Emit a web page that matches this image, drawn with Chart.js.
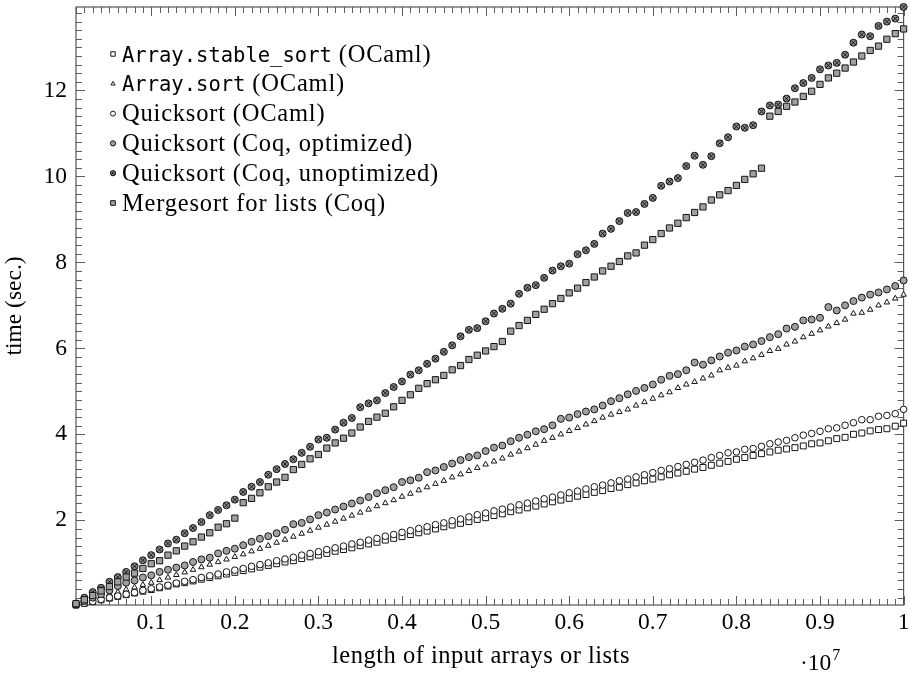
<!DOCTYPE html>
<html>
<head>
<meta charset="utf-8">
<script src="https://cdn.jsdelivr.net/npm/chart.js@4.4.1/dist/chart.umd.min.js"></script>
<style>
html,body{margin:0;padding:0;background:#fff;}
canvas{display:block;}
</style>
</head>
<body>
<canvas id="c" width="909" height="674" style="width:909px;height:674px"></canvas>
<script>
// ---------- data (x in units of 10^7) ----------
const inputLength = [
0.01,0.02,0.03,0.04,0.05,0.06,0.07,0.08,0.09,0.10,
0.11,0.12,0.13,0.14,0.15,0.16,0.17,0.18,0.19,0.20,
0.21,0.22,0.23,0.24,0.25,0.26,0.27,0.28,0.29,0.30,
0.31,0.32,0.33,0.34,0.35,0.36,0.37,0.38,0.39,0.40,
0.41,0.42,0.43,0.44,0.45,0.46,0.47,0.48,0.49,0.50,
0.51,0.52,0.53,0.54,0.55,0.56,0.57,0.58,0.59,0.60,
0.61,0.62,0.63,0.64,0.65,0.66,0.67,0.68,0.69,0.70,
0.71,0.72,0.73,0.74,0.75,0.76,0.77,0.78,0.79,0.80,
0.81,0.82,0.83,0.84,0.85,0.86,0.87,0.88,0.89,0.90,
0.91,0.92,0.93,0.94,0.95,0.96,0.97,0.98,0.99,1.00];

const stableSortOCaml = [
0.03,0.07,0.11,0.15,0.19,0.23,0.27,0.31,0.35,0.39,
0.43,0.47,0.52,0.55,0.59,0.63,0.67,0.71,0.75,0.79,
0.83,0.87,0.91,0.95,0.99,1.03,1.06,1.11,1.15,1.19,
1.23,1.28,1.32,1.36,1.41,1.45,1.49,1.54,1.58,1.62,
1.67,1.71,1.75,1.80,1.85,1.89,1.93,1.97,2.02,2.06,
2.11,2.15,2.20,2.24,2.29,2.33,2.38,2.43,2.47,2.51,
2.56,2.60,2.65,2.69,2.74,2.77,2.83,2.87,2.92,2.96,
3.01,3.06,3.10,3.14,3.19,3.23,3.28,3.33,3.37,3.42,
3.46,3.51,3.55,3.59,3.63,3.66,3.69,3.73,3.78,3.80,
3.85,3.90,3.93,4.00,4.03,4.08,4.11,4.13,4.19,4.26];

const arraySortOCaml = [
0.04,0.09,0.15,0.21,0.27,0.33,0.39,0.44,0.50,0.55,
0.61,0.67,0.73,0.79,0.85,0.91,0.97,1.03,1.09,1.15,
1.21,1.28,1.34,1.41,1.48,1.55,1.62,1.69,1.76,1.83,
1.90,1.97,2.04,2.11,2.18,2.25,2.33,2.40,2.47,2.55,
2.62,2.70,2.77,2.85,2.92,3.00,3.07,3.15,3.22,3.30,
3.37,3.44,3.53,3.60,3.68,3.76,3.85,3.92,4.00,4.08,
4.15,4.23,4.31,4.39,4.46,4.52,4.58,4.67,4.75,4.83,
4.91,4.98,5.08,5.16,5.22,5.30,5.37,5.49,5.55,5.60,
5.70,5.77,5.85,5.94,5.99,6.09,6.16,6.26,6.34,6.42,
6.51,6.59,6.67,6.81,6.83,6.90,7.00,7.07,7.16,7.25];

const quicksortOCaml = [
0.03,0.07,0.11,0.16,0.20,0.24,0.28,0.32,0.37,0.41,
0.45,0.49,0.54,0.58,0.62,0.67,0.71,0.75,0.80,0.84,
0.88,0.93,0.97,1.01,1.06,1.10,1.14,1.19,1.23,1.27,
1.32,1.36,1.40,1.45,1.49,1.54,1.58,1.63,1.67,1.72,
1.76,1.81,1.85,1.90,1.94,1.99,2.03,2.08,2.13,2.17,
2.22,2.26,2.31,2.36,2.40,2.45,2.50,2.54,2.59,2.64,
2.68,2.73,2.78,2.82,2.87,2.92,2.96,3.01,3.06,3.11,
3.16,3.20,3.25,3.30,3.35,3.40,3.46,3.51,3.57,3.59,
3.65,3.67,3.72,3.78,3.82,3.86,3.92,3.98,4.02,4.07,
4.13,4.15,4.21,4.27,4.34,4.34,4.42,4.44,4.48,4.58];

const quicksortCoqOptimized = [
0.05,0.12,0.20,0.28,0.37,0.47,0.55,0.60,0.67,0.72,
0.80,0.85,0.90,0.95,1.03,1.09,1.13,1.23,1.29,1.34,
1.42,1.50,1.57,1.63,1.70,1.78,1.91,1.94,2.02,2.12,
2.18,2.25,2.32,2.39,2.46,2.54,2.63,2.70,2.77,2.89,
2.93,2.99,3.12,3.16,3.24,3.32,3.40,3.47,3.51,3.61,
3.69,3.74,3.84,3.92,3.99,4.07,4.12,4.21,4.36,4.39,
4.47,4.53,4.58,4.67,4.77,4.84,4.93,5.01,5.08,5.16,
5.27,5.36,5.40,5.49,5.67,5.62,5.72,5.81,5.90,5.95,
6.04,6.09,6.17,6.26,6.33,6.46,6.50,6.65,6.67,6.71,
6.96,6.88,7.00,7.10,7.18,7.25,7.30,7.37,7.45,7.58];

const quicksortCoqUnoptimized = [
0.06,0.20,0.33,0.43,0.57,0.68,0.80,0.93,1.07,1.19,
1.32,1.46,1.55,1.70,1.82,1.96,2.12,2.24,2.35,2.48,
2.66,2.78,2.89,3.06,3.19,3.31,3.42,3.57,3.71,3.88,
3.92,4.11,4.27,4.38,4.63,4.72,4.79,4.96,5.10,5.23,
5.39,5.49,5.64,5.76,5.92,6.07,6.28,6.43,6.47,6.63,
6.81,6.92,7.04,7.27,7.41,7.47,7.64,7.81,7.91,7.97,
8.19,8.28,8.43,8.67,8.78,8.96,9.15,9.17,9.36,9.50,
9.78,9.88,9.96,10.24,10.48,10.27,10.47,10.77,10.91,11.16,
11.13,11.19,11.51,11.65,11.67,11.81,12.05,12.17,12.29,12.49,
12.58,12.64,12.83,13.11,13.30,13.26,13.50,13.60,13.67,13.94];

const mergesortListsCoq = [
0.06,0.15,0.25,0.36,0.46,0.57,0.68,0.77,0.88,0.99,
1.06,1.19,1.29,1.40,1.50,1.61,1.71,1.84,1.92,2.05,
2.41,2.51,2.64,2.78,2.89,3.00,3.18,3.30,3.43,3.53,
3.68,3.80,3.91,4.03,4.17,4.30,4.40,4.49,4.64,4.79,
4.92,5.07,5.18,5.27,5.37,5.50,5.60,5.74,5.84,5.94,
6.04,6.16,6.40,6.53,6.65,6.79,6.91,7.04,7.16,7.29,
7.40,7.53,7.66,7.80,7.91,8.02,8.15,8.22,8.40,8.53,
8.67,8.80,8.91,9.04,9.16,9.29,9.45,9.57,9.67,9.79,
9.93,10.06,10.19,11.40,11.51,11.63,11.73,11.86,11.98,12.14,
12.29,12.40,12.52,12.66,12.80,12.93,13.03,13.19,13.32,13.43];

// ---------- labels & ticks ----------
const legendMonoPart  = ['Array.stable_sort', 'Array.sort', '', '', '', ''];
const legendSerifPart = [' (OCaml)', ' (OCaml)', 'Quicksort (OCaml)', 'Quicksort (Coq, optimized)', 'Quicksort (Coq, unoptimized)', 'Mergesort for lists (Coq)'];
const xTickValues = [0.1,0.2,0.3,0.4,0.5,0.6,0.7,0.8,0.9,1.0];
const xTickLabels = ['0.1','0.2','0.3','0.4','0.5','0.6','0.7','0.8','0.9','1'];
const yTickValues = [2,4,6,8,10,12];
const yTickLabels = ['2','4','6','8','10','12'];
const xAxisTitle = 'length of input arrays or lists';
const yAxisTitle = 'time (sec.)';
const xScaleBase = '\u00B710';
const xScaleExponent = '7';

// ---------- styling ----------
const SERIF = "'Liberation Serif','Times New Roman',serif";
const MONO = "'DejaVu Sans Mono','Liberation Mono',monospace";
const X_MIN = 0.01, X_MAX = 1.0, Y_MIN = 0.03, Y_MAX = 13.94;
const INK = '#151515';

const markerStyles = [
  {pointStyle:'rect',     radius:4.2, backgroundColor:'#ffffff', borderColor:INK, borderWidth:1},
  {pointStyle:'triangle', radius:3.2, backgroundColor:'#ffffff', borderColor:INK, borderWidth:1},
  {pointStyle:'circle',   radius:3.3, backgroundColor:'#ffffff', borderColor:INK, borderWidth:1},
  {pointStyle:'circle',   radius:3.5, backgroundColor:'#a0a0a0', borderColor:INK, borderWidth:1},
  {pointStyle:'circle',   radius:3.5, backgroundColor:'#858585', borderColor:INK, borderWidth:1},
  {pointStyle:'rect',     radius:4.4, backgroundColor:'#a0a0a0', borderColor:INK, borderWidth:1}
];
const crossStyle = {pointStyle:'crossRot', radius:3.5, backgroundColor:INK, borderColor:INK, borderWidth:0.9};

const seriesValues = [stableSortOCaml, arraySortOCaml, quicksortOCaml, quicksortCoqOptimized, quicksortCoqUnoptimized, mergesortListsCoq];

function pts(ys){ return inputLength.map((x,i)=>({x:x, y:ys[i]})); }

const datasets = seriesValues.map((ys,i)=>Object.assign({
  label: legendMonoPart[i] + legendSerifPart[i],
  data: pts(ys),
  showLine:false,
  clip:false,
  order: 10 - i*1.5,
  pointHoverRadius: markerStyles[i].radius
}, markerStyles[i]));
// cross overlay for the "unoptimized" marker (circle with an x)
datasets.push(Object.assign({
  label: '',
  data: pts(quicksortCoqUnoptimized),
  showLine:false,
  clip:false,
  order: 10 - 4*1.5 - 0.5,
  pointHoverRadius: crossStyle.radius
}, crossStyle));

function drawMarker(ctx, st, x, y, scale){
  const opts = {pointStyle:st.pointStyle, radius:st.radius*scale, rotation:0, borderWidth:st.borderWidth};
  ctx.save();
  ctx.fillStyle = st.backgroundColor;
  ctx.strokeStyle = st.borderColor;
  ctx.lineWidth = st.borderWidth;
  if (Chart.helpers && Chart.helpers.drawPoint) {
    Chart.helpers.drawPoint(ctx, opts, x, y);
  }
  ctx.restore();
}

const axisDecor = {
  id:'axisDecor',
  beforeDatasetsDraw(chart){
    const {ctx, chartArea:a, scales:{x, y}} = chart;
    ctx.save();
    ctx.strokeStyle = '#5e5e5e';
    ctx.lineWidth = 1;
    const seg = (x1,y1,x2,y2)=>{ctx.beginPath();ctx.moveTo(x1,y1);ctx.lineTo(x2,y2);ctx.stroke();};
    for (let i=1;i<=100;i++){
      const v = i/100;
      if (v < X_MIN - 1e-9 || v > X_MAX + 1e-9) continue;
      const major = xTickValues.some(t=>Math.abs(t-v)<1e-9);
      const len = major ? 9 : 6;
      const px = Math.round(x.getPixelForValue(v)) + 0.5;
      seg(px, a.bottom, px, a.bottom - len);
      seg(px, a.top, px, a.top + len);
    }
    for (let i=1;i*0.2<=Y_MAX;i++){
      const v = i*0.2;
      if (v < Y_MIN) continue;
      const major = yTickValues.some(t=>Math.abs(t-v)<1e-6);
      const len = major ? 9 : 6;
      const py = Math.round(y.getPixelForValue(v)) + 0.5;
      seg(a.left, py, a.left + len, py);
      seg(a.right, py, a.right - len, py);
    }
    ctx.lineWidth = 1.2;
    ctx.strokeStyle = '#555';
    ctx.strokeRect(a.left, a.top, a.right - a.left, a.bottom - a.top);
    ctx.restore();
  },
  afterDraw(chart){
    const ctx = chart.ctx;
    ctx.save();
    const x0 = 113, tx = 122, y0 = 54, dy = 29.8;
    for (let i=0;i<legendSerifPart.length;i++){
      const cy = y0 + i*dy;
      drawMarker(ctx, markerStyles[i], x0, cy, 0.75);
      if (i === 4) drawMarker(ctx, crossStyle, x0, cy, 0.75);
      ctx.fillStyle = '#000';
      ctx.textBaseline = 'alphabetic';
      ctx.textAlign = 'left';
      let cx = tx;
      const base = cy + 7.5;
      if (legendMonoPart[i]) {
        ctx.letterSpacing = '0px';
        ctx.font = "20.5px " + MONO;
        ctx.fillText(legendMonoPart[i], cx, base);
        cx += ctx.measureText(legendMonoPart[i]).width;
      }
      ctx.font = "24.5px " + SERIF;
      ctx.letterSpacing = '0.8px';
      ctx.fillText(legendSerifPart[i], cx, base);
      ctx.letterSpacing = '0px';
    }
    ctx.font = "24.5px " + SERIF;
    ctx.letterSpacing = '0.5px';
    ctx.textAlign = 'center';
    ctx.fillText(xAxisTitle, 481, 663);
    ctx.letterSpacing = '0px';
    ctx.textAlign = 'left';
    ctx.font = "23.5px " + SERIF;
    ctx.fillText(xScaleBase, 800, 670);
    const w = ctx.measureText(xScaleBase).width;
    ctx.font = "16px " + SERIF;
    ctx.fillText(xScaleExponent, 800 + w + 1, 660);
    ctx.restore();
  }
};

new Chart(document.getElementById('c'), {
  type:'scatter',
  data:{datasets:datasets},
  options:{
    responsive:false,
    animation:false,
    devicePixelRatio:1,
    layout:{padding:{left:0, right:4, top:7, bottom:0}},
    plugins:{legend:{display:false}, tooltip:{enabled:false}},
    scales:{
      x:{
        type:'linear', min:X_MIN, max:X_MAX,
        afterBuildTicks:(s)=>{ s.ticks = xTickValues.map(v=>({value:v})); },
        afterFit:(s)=>{ s.height = 69; s.paddingLeft = 0; s.paddingRight = 0; },
        grid:{display:false, drawTicks:false},
        border:{display:false},
        ticks:{
          autoSkip:false, maxRotation:0, minRotation:0, padding:4,
          color:'#000', font:{family:SERIF, size:23.5},
          callback:(v, i)=>xTickLabels[i]
        },
        title:{display:false}
      },
      y:{
        type:'linear', min:Y_MIN, max:Y_MAX,
        afterBuildTicks:(s)=>{ s.ticks = yTickValues.map(v=>({value:v})); },
        afterFit:(s)=>{ s.width = 76; s.paddingTop = 0; s.paddingBottom = 0; },
        grid:{display:false, drawTicks:false},
        border:{display:false},
        ticks:{
          autoSkip:false, padding:9,
          color:'#000', font:{family:SERIF, size:23.5},
          callback:(v, i)=>yTickLabels[i]
        },
        title:{display:true, text:yAxisTitle, color:'#000', font:{family:SERIF, size:23.5}, padding:{top:1, bottom:0}}
      }
    }
  },
  plugins:[axisDecor]
});
</script>
</body>
</html>
